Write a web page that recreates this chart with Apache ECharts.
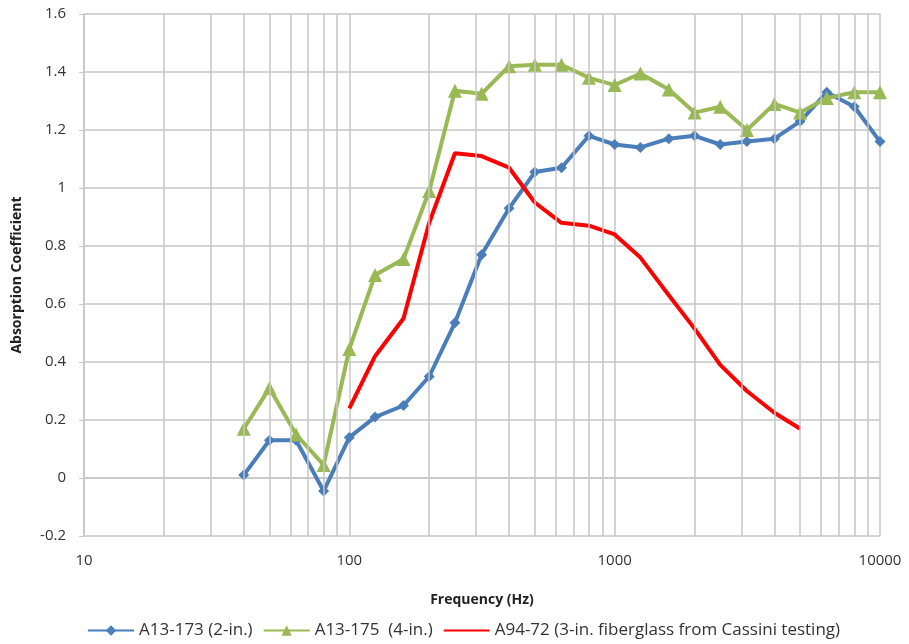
<!DOCTYPE html>
<html>
<head>
<meta charset="utf-8">
<script src="https://cdn.jsdelivr.net/npm/echarts@6/dist/echarts.min.js"></script>
<style>
  html, body { margin: 0; padding: 0; background: #fff; }
  #chart { width: 909px; height: 644px; }
</style>
</head>
<body>
<div id="chart"></div>
<script>
// 1/3-octave band centre frequencies (Hz)
const freqs = [40, 50, 63, 80, 100, 125, 160, 200, 250, 315, 400, 500, 630, 800,
  1000, 1250, 1600, 2000, 2500, 3150, 4000, 5000, 6300, 8000, 10000];

const a13_173 = [0.01, 0.13, 0.13, -0.045, 0.14, 0.21, 0.25, 0.35, 0.535, 0.77, 0.93, 1.055, 1.07, 1.18,
  1.15, 1.14, 1.17, 1.18, 1.15, 1.16, 1.17, 1.23, 1.33, 1.28, 1.16];

const a13_175 = [0.17, 0.31, 0.15, 0.045, 0.445, 0.70, 0.755, 0.99, 1.335, 1.325, 1.42, 1.425, 1.425, 1.38,
  1.355, 1.395, 1.34, 1.26, 1.28, 1.20, 1.29, 1.26, 1.31, 1.33, 1.33];

// red curve starts at 100 Hz and ends at 5000 Hz
const a94Freqs = [100, 125, 160, 200, 250, 315, 400, 500, 630, 800, 1000, 1250, 1600, 2000, 2500, 3150, 4000, 5000];
const a94_72 = [0.24, 0.42, 0.55, 0.88, 1.12, 1.11, 1.07, 0.95, 0.88, 0.87, 0.84, 0.76, 0.63, 0.515, 0.39, 0.30, 0.225, 0.17];

// minor log grid lines (2..9 of each decade)
const minorGrid = [20, 30, 40, 50, 60, 70, 80, 90, 200, 300, 400, 500, 600, 700, 800, 900,
  2000, 3000, 4000, 5000, 6000, 7000, 8000, 9000];

const seriesNames = ['A13-173 (2-in.)', 'A13-175  (4-in.)', 'A94-72 (3-in. fiberglass from Cassini testing)'];

const pair = (xs, ys) => xs.map((x, i) => [x, ys[i]]);

const gridColor = '#c6c6c6';
const font = '"Open Sans", "Liberation Sans", sans-serif';

const chart = echarts.init(document.getElementById('chart'));

const option = {
  animation: false,
  textStyle: { fontFamily: font },
  grid: { left: 84, right: 29, top: 14, bottom: 108 },
  legend: {
    bottom: 0,
    left: 82,
    itemWidth: 46,
    itemHeight: 13,
    itemGap: 10,
    textStyle: { fontSize: 17, color: '#333', fontFamily: font },
    data: [
      seriesNames[0],
      seriesNames[1],
      { name: seriesNames[2], itemStyle: { opacity: 0 } }
    ]
  },
  xAxis: {
    type: 'log',
    logBase: 10,
    min: 10,
    max: 10000,
    name: 'Frequency (Hz)',
    nameLocation: 'middle',
    nameGap: 57,
    nameTextStyle: { fontWeight: 'bold', fontSize: 14, color: '#222', fontFamily: font },
    axisLine: { show: true, lineStyle: { color: gridColor, width: 1.5 } },
    axisTick: { show: false },
    axisLabel: {
      color: '#333', fontSize: 15, margin: 17, fontFamily: font,
      formatter: v => String(v)
    },
    splitLine: { show: true, lineStyle: { color: gridColor, width: 1.5 } }
  },
  yAxis: {
    type: 'value',
    min: -0.2,
    max: 1.6,
    interval: 0.2,
    name: 'Absorption Coefficient',
    nameLocation: 'middle',
    nameGap: 60,
    nameTextStyle: { fontWeight: 'bold', fontSize: 14, color: '#222', fontFamily: font },
    axisLine: { show: true, lineStyle: { color: gridColor, width: 1.5 } },
    axisTick: { show: true, length: 5, inside: false, lineStyle: { color: gridColor } },
    axisLabel: { color: '#333', fontSize: 15, margin: 18, fontFamily: font },
    splitLine: { show: true, lineStyle: { color: gridColor, width: 1.5 } }
  },
  series: [
    {
      name: 'minor',
      type: 'line',
      data: [],
      silent: true,
      markLine: {
        silent: true,
        symbol: 'none',
        label: { show: false },
        lineStyle: { color: gridColor, width: 1.5, type: 'solid' },
        data: minorGrid.map(v => ({ xAxis: v }))
      }
    },
    {
      name: seriesNames[0],
      type: 'line',
      data: pair(freqs, a13_173),
      symbol: 'diamond',
      symbolSize: 11,
      color: '#4a7ebb',
      lineStyle: { width: 4 },
      z: 3
    },
    {
      name: seriesNames[1],
      type: 'line',
      data: pair(freqs, a13_175),
      symbol: 'triangle',
      symbolSize: 14,
      color: '#98b954',
      lineStyle: { width: 4 },
      z: 3
    },
    {
      name: seriesNames[2],
      type: 'line',
      data: pair(a94Freqs, a94_72),
      symbol: 'none',
      color: '#ff0000',
      lineStyle: { width: 4 },
      z: 4
    }
  ]
};

chart.setOption(option);
</script>
</body>
</html>
